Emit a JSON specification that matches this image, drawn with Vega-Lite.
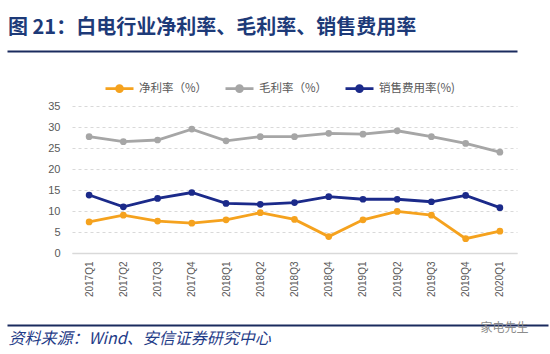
{
  "$schema": "https://vega.github.io/schema/vega-lite/v6.json",
  "autosize": "none",
  "width": 445,
  "height": 147,
  "padding": {"left": 72, "top": 106, "right": 33, "bottom": 101},
  "background": "white",
  "title": {
    "text": "图 21：白电行业净利率、毛利率、销售费用率",
    "anchor": "start",
    "frame": "group",
    "dx": -64,
    "offset": 13,
    "font": "Noto Sans CJK SC",
    "fontSize": 20,
    "fontWeight": "bold",
    "color": "#1d3a78"
  },
  "config": {
    "view": {"stroke": null},
    "font": "Noto Sans CJK SC"
  },
  "data": {
    "values": [
      {"q": "2017Q1", "s": "净利率（%）", "v": 7.4},
      {"q": "2017Q2", "s": "净利率（%）", "v": 9.0},
      {"q": "2017Q3", "s": "净利率（%）", "v": 7.6},
      {"q": "2017Q4", "s": "净利率（%）", "v": 7.1},
      {"q": "2018Q1", "s": "净利率（%）", "v": 7.9},
      {"q": "2018Q2", "s": "净利率（%）", "v": 9.6},
      {"q": "2018Q3", "s": "净利率（%）", "v": 8.0},
      {"q": "2018Q4", "s": "净利率（%）", "v": 3.9},
      {"q": "2019Q1", "s": "净利率（%）", "v": 7.9},
      {"q": "2019Q2", "s": "净利率（%）", "v": 9.9},
      {"q": "2019Q3", "s": "净利率（%）", "v": 9.0},
      {"q": "2019Q4", "s": "净利率（%）", "v": 3.4},
      {"q": "2020Q1", "s": "净利率（%）", "v": 5.2},
      {"q": "2017Q1", "s": "毛利率（%）", "v": 27.7},
      {"q": "2017Q2", "s": "毛利率（%）", "v": 26.5},
      {"q": "2017Q3", "s": "毛利率（%）", "v": 26.9},
      {"q": "2017Q4", "s": "毛利率（%）", "v": 29.5},
      {"q": "2018Q1", "s": "毛利率（%）", "v": 26.7},
      {"q": "2018Q2", "s": "毛利率（%）", "v": 27.7},
      {"q": "2018Q3", "s": "毛利率（%）", "v": 27.7},
      {"q": "2018Q4", "s": "毛利率（%）", "v": 28.5},
      {"q": "2019Q1", "s": "毛利率（%）", "v": 28.3},
      {"q": "2019Q2", "s": "毛利率（%）", "v": 29.1},
      {"q": "2019Q3", "s": "毛利率（%）", "v": 27.7},
      {"q": "2019Q4", "s": "毛利率（%）", "v": 26.1},
      {"q": "2020Q1", "s": "毛利率（%）", "v": 24.0},
      {"q": "2017Q1", "s": "销售费用率(%)", "v": 13.8},
      {"q": "2017Q2", "s": "销售费用率(%)", "v": 11.0},
      {"q": "2017Q3", "s": "销售费用率(%)", "v": 13.0},
      {"q": "2017Q4", "s": "销售费用率(%)", "v": 14.4},
      {"q": "2018Q1", "s": "销售费用率(%)", "v": 11.8},
      {"q": "2018Q2", "s": "销售费用率(%)", "v": 11.6},
      {"q": "2018Q3", "s": "销售费用率(%)", "v": 12.0},
      {"q": "2018Q4", "s": "销售费用率(%)", "v": 13.4},
      {"q": "2019Q1", "s": "销售费用率(%)", "v": 12.8},
      {"q": "2019Q2", "s": "销售费用率(%)", "v": 12.8},
      {"q": "2019Q3", "s": "销售费用率(%)", "v": 12.2},
      {"q": "2019Q4", "s": "销售费用率(%)", "v": 13.7},
      {"q": "2020Q1", "s": "销售费用率(%)", "v": 10.8}
    ]
  },
  "resolve": {"scale": {"x": "independent"}, "axis": {"x": "independent"}},
  "layer": [
    {
      "mark": {"type": "line", "strokeWidth": 2.8, "point": {"filled": true, "size": 45}},
      "encoding": {
        "x": {
          "field": "q",
          "type": "ordinal",
          "scale": {"type": "point", "padding": 0.5},
          "axis": {
            "title": "资料来源：Wind、安信证券研究中心",
            "titleX": -64,
            "titleY": 85,
            "titleAlign": "left",
            "titleBaseline": "middle",
            "titleFontSize": 16,
            "titleFontStyle": "italic",
            "titleFontWeight": "normal",
            "titleColor": "#1f3c88",
            "labelAngle": -90,
            "labelFontSize": 10,
            "labelColor": "#595959",
            "labelPadding": 8,
            "labelFont": "Liberation Sans",
            "ticks": false,
            "domainColor": "#d9d9d9",
            "domainWidth": 1.5,
            "grid": false
          }
        },
        "y": {
          "field": "v",
          "type": "quantitative",
          "scale": {"domain": [0, 35], "nice": false},
          "axis": {
            "title": null,
            "values": [0, 5, 10, 15, 20, 25, 30, 35],
            "domain": false,
            "ticks": false,
            "labelFontSize": 11,
            "labelColor": "#595959",
            "labelFont": "Liberation Sans",
            "labelPadding": 12,
            "gridColor": "#d9d9d9",
            "gridDash": [3, 3],
            "gridWidth": 1
          }
        },
        "color": {
          "field": "s",
          "type": "nominal",
          "sort": ["净利率（%）", "毛利率（%）", "销售费用率(%)"],
          "scale": {
            "domain": ["净利率（%）", "毛利率（%）", "销售费用率(%)"],
            "range": ["#f5a21e", "#a6a6a6", "#1b2a8a"]
          },
          "legend": {
            "title": null,
            "orient": "none",
            "direction": "horizontal",
            "legendX": 32,
            "legendY": -33,
            "gridAlign": "all",
            "symbolType": "M-1,0H1M-0.22,0A0.22,0.22,0,1,1,0.22,0A0.22,0.22,0,1,1,-0.22,0Z",
            "symbolSize": 784,
            "symbolStrokeWidth": 2.6,
            "labelFontSize": 11.5,
            "labelColor": "#595959",
            "labelOffset": 4,
            "columnPadding": 5,
            "encode": {
              "symbols": {"update": {"fill": {"scale": "color", "field": "value"}}}
            }
          }
        }
      }
    },
    {
      "mark": {"type": "text"},
      "encoding": {
        "text": {"value": ""},
        "x": {
          "datum": 0,
          "type": "quantitative",
          "scale": {"domain": [0, 1], "range": [-65, 445], "nice": false},
          "axis": {
            "orient": "top",
            "offset": 55,
            "title": null,
            "labels": false,
            "ticks": false,
            "grid": false,
            "domain": true,
            "domainColor": "#1a2b5e",
            "domainWidth": 2
          }
        }
      }
    },
    {
      "mark": {"type": "text"},
      "encoding": {
        "text": {"value": ""},
        "x": {
          "datum": 0,
          "type": "quantitative",
          "scale": {"domain": [0, 1], "range": [-65, 476], "nice": false},
          "axis": {
            "orient": "top",
            "offset": -219,
            "title": "家电先生",
            "titleX": 408,
            "titleY": 2,
            "titleAlign": "left",
            "titleBaseline": "middle",
            "titleFontSize": 12,
            "titleFontWeight": "normal",
            "titleColor": "#8c8c8c",
            "labels": false,
            "ticks": false,
            "grid": false,
            "domain": true,
            "domainColor": "#1a2b5e",
            "domainWidth": 2
          }
        }
      }
    }
  ]
}
